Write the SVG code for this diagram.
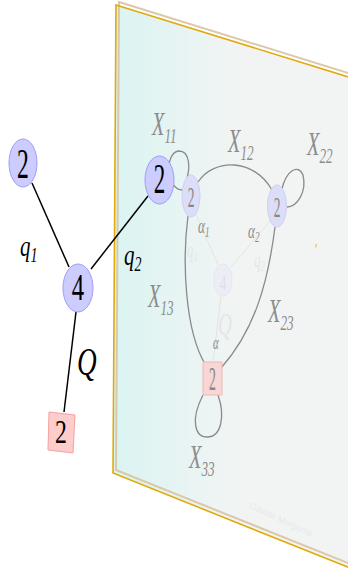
<svg xmlns="http://www.w3.org/2000/svg" width="348" height="571" viewBox="0 0 348 571">
<defs>
<linearGradient id="pf" gradientUnits="userSpaceOnUse" x1="118" y1="0" x2="238" y2="0">
<stop offset="0" stop-color="#dbf4f2"/>
<stop offset="1" stop-color="#f2f4f4"/>
</linearGradient>
</defs>
<style>
.dig{font-family:"Liberation Serif",serif;text-anchor:middle;fill:#000}
.lab{font-family:"Liberation Serif",serif;font-style:italic;fill:#000}
.plab{font-family:"Liberation Serif",serif;font-style:italic;fill:#8c8c8c}
.fl{font-family:"Liberation Serif",serif;font-style:italic;fill:#e4e6e6}
.nd{fill:#ccccff;stroke:#9d9dfa;stroke-width:1}
.sq{fill:#ffcccc;stroke:#f4a0a0;stroke-width:1}
.e{stroke:#000;stroke-width:1.5;fill:none}
.pe{stroke:#8a8a8a;stroke-width:1.3;fill:none}
.fe{stroke:#e2e4e4;stroke-width:1;fill:none}
</style>
<g id="plane">
<polygon points="116,5 360,80.6 360,572 113,473" fill="url(#pf)"/>
<polygon points="119,2 363,77.6 363,569 116,470" fill="none" stroke="#d9c9aa" stroke-width="2"/>
<polygon points="116,5 360,80.6 360,572 113,473" fill="none" stroke="#e2a90a" stroke-width="1.6"/>
<line x1="316.5" y1="244" x2="315.5" y2="247.5" stroke="#e8c860" stroke-width="1.2"/>
<text x="0" y="0" transform="translate(249,508) rotate(25)" font-family="Liberation Sans, sans-serif" font-size="9" fill="#e6e9e9">Davide Morgante</text>
</g>
<g id="connectors">
<path class="fe" d="M196,214 L218,265"/>
<path class="fe" d="M271,220 L231,267"/>
<path class="fe" d="M221,296 L213,362"/>
<path class="pe" d="M183,190 C166,191 164,152 179,151 C190,151 190,168 187,178"/>
<path class="pe" d="M198,182 C214,158 254,158 272,190"/>
<path class="pe" d="M282,189 C286,171 298,163 303,175 C307,192 297,207 287,207"/>
<path class="pe" d="M188,216 C182,262 185,330 205,364"/>
<path class="pe" d="M275,227 C268,282 255,330 221,368"/>
<path class="pe" d="M203,395 C190,420 195,437 207,437 C222,437 225,415 218,395"/>
<path class="e" d="M32,183 L69,267"/>
<path class="e" d="M91,269 L148,196"/>
<path class="e" d="M76,312 L64,412"/>
</g>
<g id="plane-labels">
<text class="plab" transform="translate(152,135) scale(0.6,1)" font-size="34">X<tspan font-size="22" dy="8">11</tspan></text>
<text class="plab" transform="translate(228,152) scale(0.6,1)" font-size="34">X<tspan font-size="22" dy="8">12</tspan></text>
<text class="plab" transform="translate(307,155) scale(0.6,1)" font-size="34">X<tspan font-size="22" dy="8">22</tspan></text>
<text class="plab" transform="translate(148,307) scale(0.6,1)" font-size="34">X<tspan font-size="22" dy="8">13</tspan></text>
<text class="plab" transform="translate(268,322) scale(0.6,1)" font-size="34">X<tspan font-size="22" dy="8">23</tspan></text>
<text class="plab" transform="translate(189,468) scale(0.6,1)" font-size="34">X<tspan font-size="22" dy="8">33</tspan></text>
<text class="plab" fill="#9a9a9a" transform="translate(198,233) scale(0.6,1)" font-size="22">α<tspan font-size="15" dy="4">1</tspan></text>
<text class="plab" fill="#9a9a9a" transform="translate(248,238) scale(0.6,1)" font-size="22">α<tspan font-size="15" dy="4">2</tspan></text>
<text class="fl" transform="translate(187,257) scale(0.6,1)" font-size="22">q<tspan font-size="15" dy="4">1</tspan></text>
<text class="fl" transform="translate(254,267) scale(0.6,1)" font-size="22">q<tspan font-size="15" dy="4">2</tspan></text>
<text class="fl" transform="translate(218,335) scale(0.6,1)" font-size="32">Q</text>
<text class="plab" fill="#a0a0a0" transform="translate(213,349) scale(0.6,1)" font-size="18">α</text>
</g>
<g id="inner-n1">
<ellipse cx="191" cy="196" rx="9" ry="21" fill="#dcdef8" stroke="#cdd0f4"/>
<text class="dig" style="fill:#888" transform="translate(191,207) scale(0.45,1)" font-size="30">2</text>
</g>
<g id="inner-n2">
<ellipse cx="277" cy="206" rx="9.5" ry="21" fill="#dcdef8" stroke="#cdd0f4"/>
<text class="dig" style="fill:#888" transform="translate(277,217) scale(0.45,1)" font-size="30">2</text>
</g>
<g id="inner-n4">
<ellipse cx="223" cy="280" rx="9" ry="16" fill="#ededf5" stroke="#e6e6f0"/>
<text class="dig" style="fill:#dedee6" transform="translate(223,290) scale(0.6,1)" font-size="22">4</text>
</g>
<g id="inner-sq">
<rect x="203" y="362" width="19" height="33" fill="#f8d6d6" stroke="#f0b8b8"/>
<text class="dig" style="fill:#888" transform="translate(212.5,390) scale(0.42,1)" font-size="33">2</text>
</g>
<g id="labels">
<text class="lab" transform="translate(20,256) scale(0.7,1)" font-size="30">q<tspan font-size="20" dy="6">1</tspan></text>
<text class="lab" transform="translate(124,265) scale(0.7,1)" font-size="30">q<tspan font-size="20" dy="6">2</tspan></text>
<text class="lab" transform="translate(77,375) scale(0.68,1)" font-size="40">Q</text>
</g>
<g id="n-left">
<ellipse class="nd" cx="23" cy="163" rx="14" ry="24"/>
<text class="dig" transform="translate(23,178) scale(0.55,1)" font-size="43">2</text>
</g>
<g id="n-4">
<ellipse class="nd" cx="78" cy="288" rx="15" ry="24"/>
<text class="dig" transform="translate(78,300) scale(0.65,1)" font-size="38">4</text>
</g>
<g id="n-right">
<ellipse class="nd" cx="159.5" cy="180" rx="14.5" ry="24"/>
<text class="dig" transform="translate(159.5,193) scale(0.55,1)" font-size="42">2</text>
</g>
<g id="n-sq">
<polygon class="sq" points="49,412 75,415 73,453 48,450"/>
<text class="dig" transform="translate(61,443) scale(0.7,1)" font-size="34">2</text>
</g>
</svg>
